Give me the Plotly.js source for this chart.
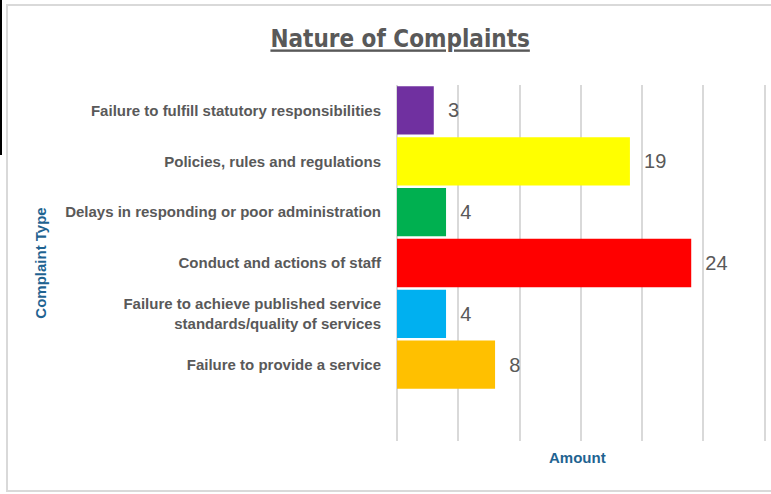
<!DOCTYPE html>
<html><head><meta charset="utf-8">
<script src="https://cdn.plot.ly/plotly-3.0.1.min.js"></script>
<style>
html,body{margin:0;padding:0;background:#fff;}
#wrap{position:relative;width:771px;height:494px;overflow:hidden;}
#frame{position:absolute;left:6px;top:4px;width:800px;height:488px;border:2px solid #d9d9d9;box-sizing:border-box;pointer-events:none;}
#bline{position:absolute;left:0;top:0;width:2px;height:155px;background:#000;}
#chart{position:absolute;left:0;top:0;width:771px;height:494px;}
</style></head>
<body><div id="wrap"><div id="chart"></div><div id="frame"></div><div id="bline"></div></div>
<script>
const categories = [
  "Failure to fulfill statutory responsibilities",
  "Policies, rules and regulations",
  "Delays in responding or poor administration",
  "Conduct and actions of staff",
  "Failure to achieve published service<br>standards/quality of services",
  "Failure to provide a service",
  ""
];
const amounts = [3, 19, 4, 24, 4, 8];
const barColors = ["#7030A0", "#FFFF00", "#00B050", "#FF0000", "#00B0F0", "#FFC000"];
const slotIndex = [0, 1, 2, 3, 4, 5];
const tickPositions = [0, 1, 2, 3, 4, 5, 6];
const xTicks = [0, 5, 10, 15, 20, 25, 30];

const trace = {
  type: 'bar',
  orientation: 'h',
  x: amounts,
  y: slotIndex,
  marker: {color: barColors, line: {width: 0}},
  width: 0.95,
  text: amounts.map(v => '\u00a0\u00a0' + v),
  textposition: 'outside',
  textfont: {family: 'Liberation Sans, Arial, sans-serif', size: 20, color: '#595959'},
  cliponaxis: false,
  hoverinfo: 'none'
};

const layout = {
  width: 771, height: 494,
  margin: {l: 397, r: 5, t: 85, b: 53},
  paper_bgcolor: 'rgba(0,0,0,0)',
  plot_bgcolor: 'rgba(0,0,0,0)',
  showlegend: false,
  title: {
    text: '<u>Nature of Complaints</u>',
    font: {family: 'Liberation Sans Narrow, DejaVu Sans Condensed, Arial Narrow, sans-serif', size: 24, color: '#595959', weight: 'bold'},
    x: 0.519, xanchor: 'center', y: 0.921, yanchor: 'middle'
  },
  xaxis: {
    range: [0, 30.1],
    tickvals: xTicks,
    showticklabels: false,
    showgrid: true, gridcolor: '#d9d9d9', gridwidth: 2,
    zeroline: true, zerolinecolor: '#d9d9d9', zerolinewidth: 2,
    showline: false, ticks: '',
    fixedrange: true,
    title: {text: '<b>Amount\u00a0\u00a0</b>', font: {family: 'Liberation Sans, Arial, sans-serif', size: 15, color: '#1f6391'}, standoff: 11}
  },
  yaxis: {
    range: [6.5, -0.5],
    tickmode: 'array',
    tickvals: tickPositions,
    ticktext: categories.map(c => c ? '<b>' + c + '</b>' : ''),
    tickfont: {family: 'Liberation Sans, Arial, sans-serif', size: 15, color: '#595959'},
    ticks: 'outside', ticklen: 12, tickcolor: 'rgba(0,0,0,0)',
    showgrid: false, zeroline: false, showline: false,
    fixedrange: true,
    title: {text: '<b>Complaint Type</b>', font: {family: 'Liberation Sans, Arial, sans-serif', size: 15, color: '#1f6391'}, standoff: 14}
  }
};

Plotly.newPlot('chart', [trace], layout, {staticPlot: true, displayModeBar: false});
</script></body></html>
